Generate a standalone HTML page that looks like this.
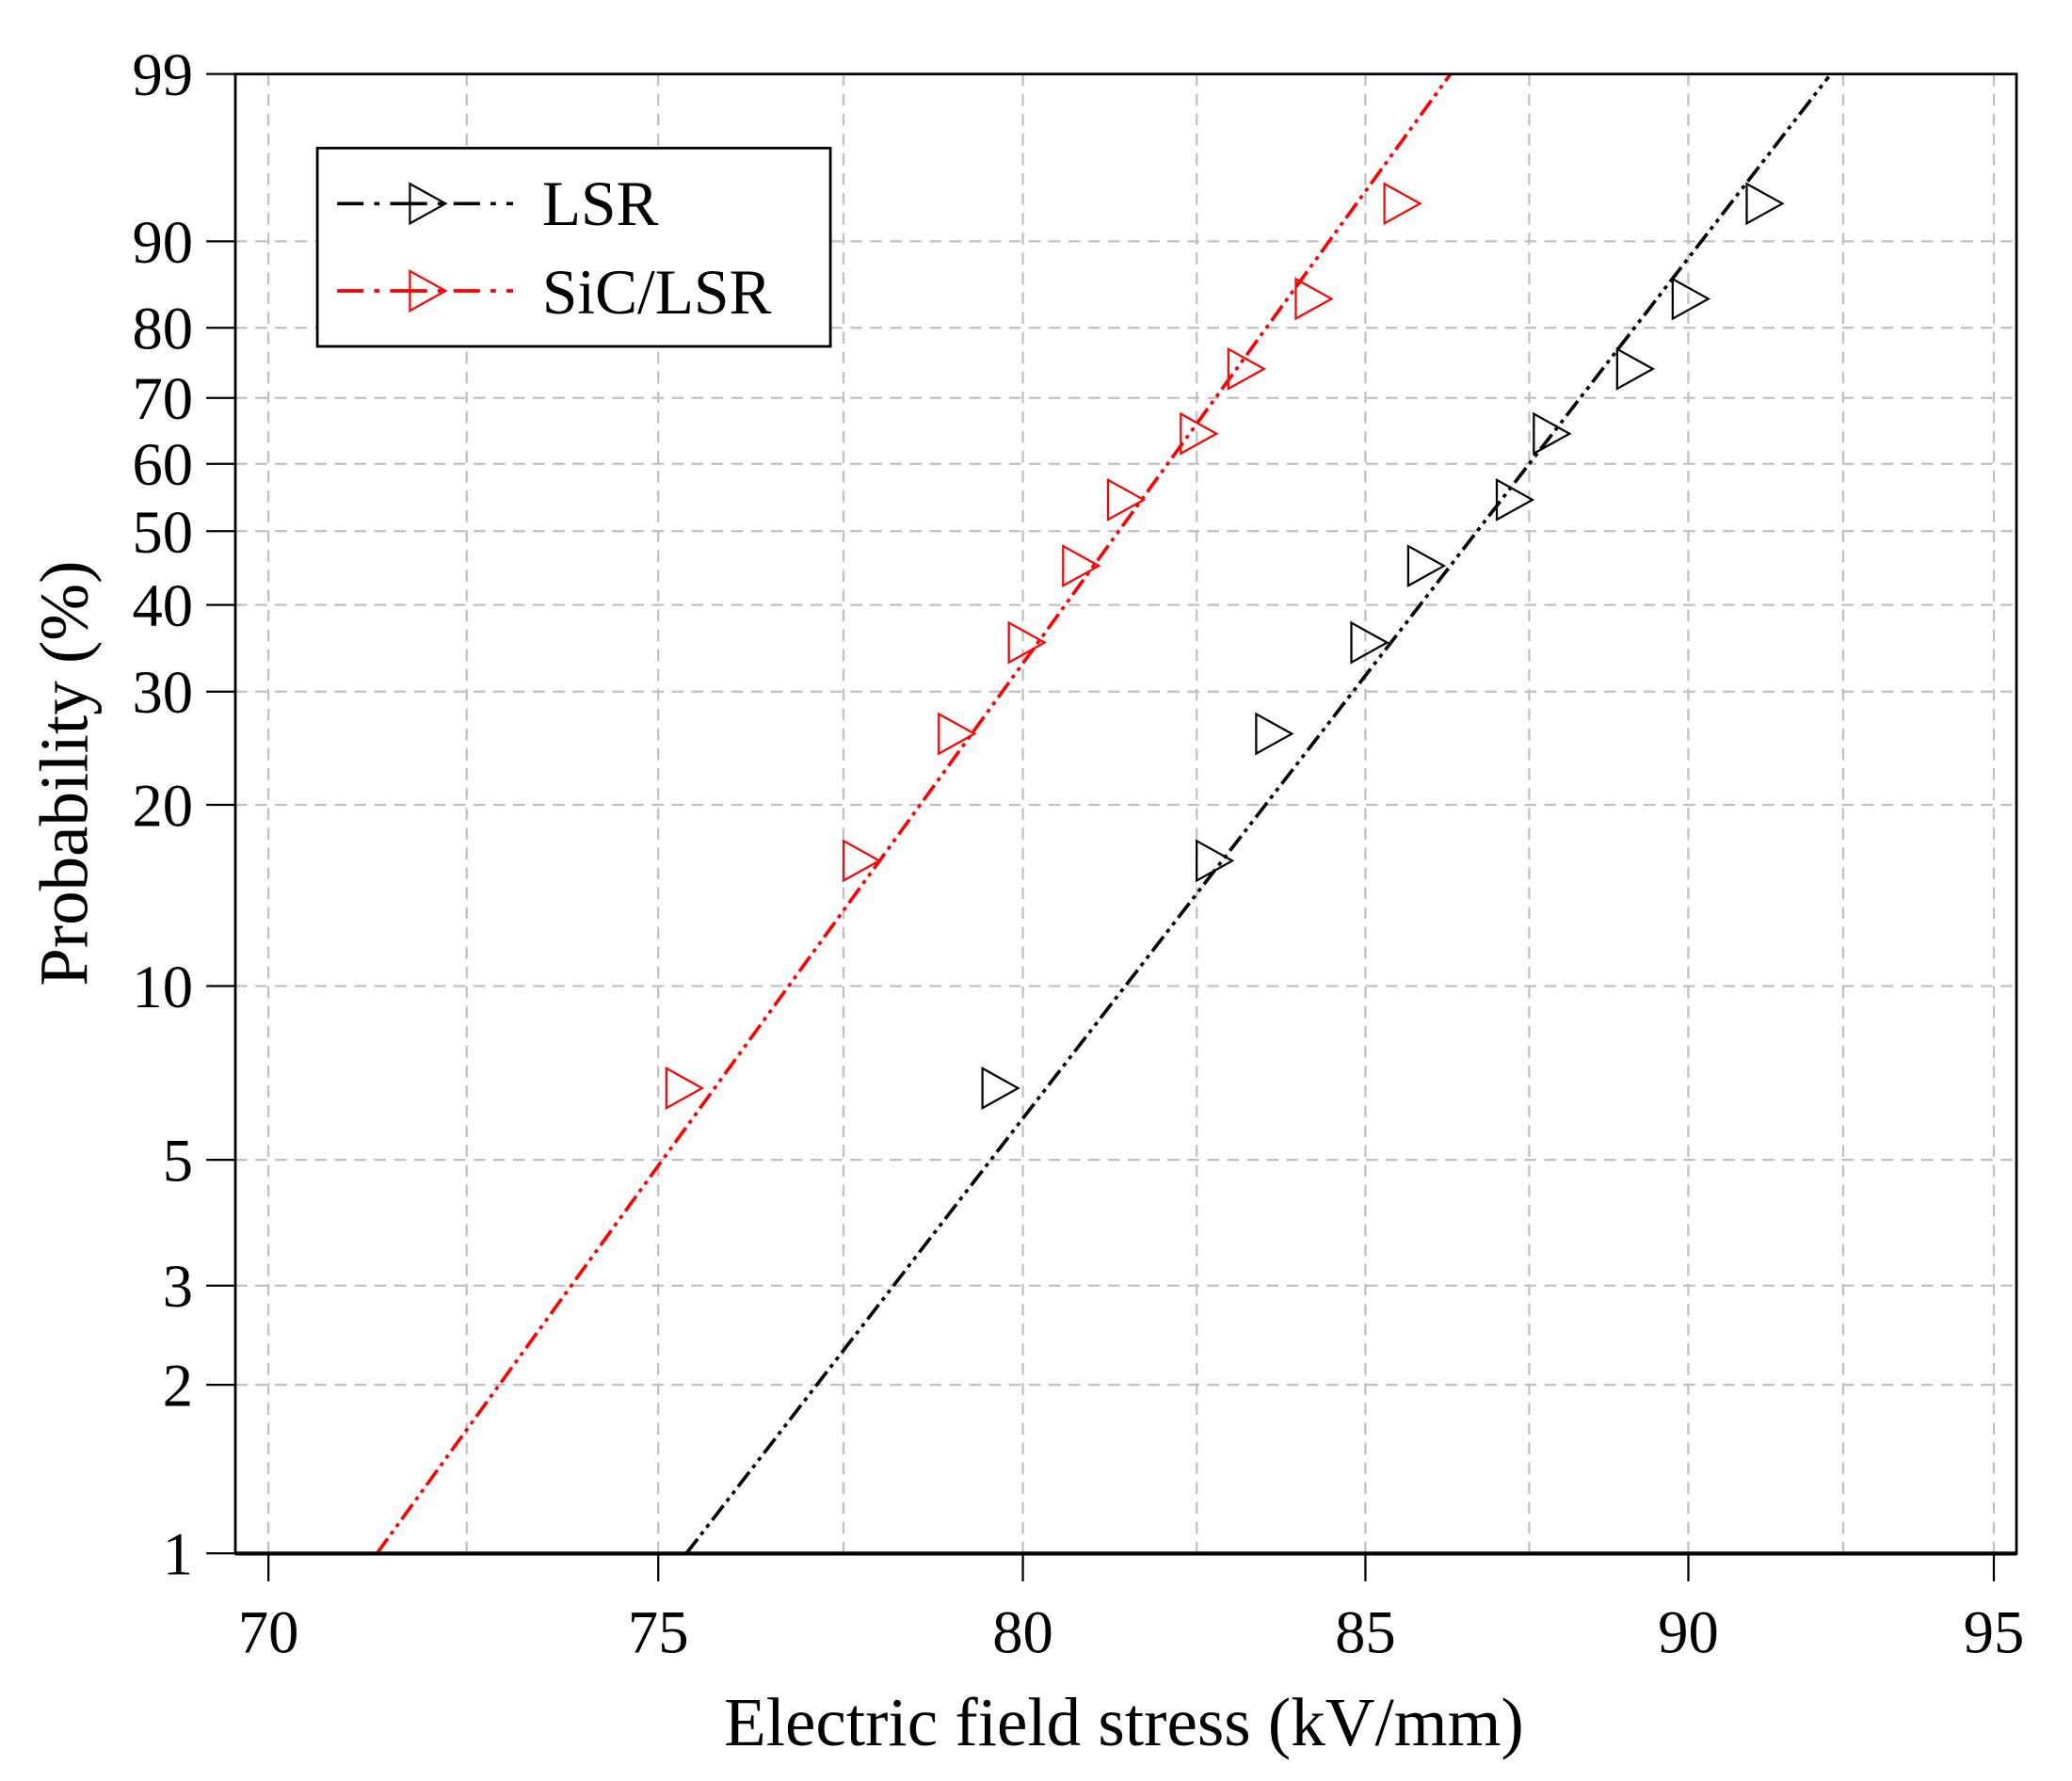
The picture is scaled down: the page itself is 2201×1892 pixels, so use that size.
<!DOCTYPE html>
<html><head><meta charset="utf-8"><style>
html,body{margin:0;padding:0;background:#fff;}
svg{display:block;}
text{font-family:"Liberation Serif",serif;fill:#000;}
</style></head><body>
<svg id="s" width="2201" height="1892" viewBox="0 0 1567 1347" preserveAspectRatio="none" xmlns="http://www.w3.org/2000/svg">
<g id="grid" stroke="#c0c0c0" stroke-width="1.6" stroke-dasharray="9,6" fill="none"></g>
<g id="series"></g>
<rect x="178" y="56" width="1347" height="1119" fill="none" stroke="#000" stroke-width="2"/>
<line x1="178" y1="1175" x2="1525" y2="1175" stroke="#000" stroke-width="3"/>
<g id="ticks" stroke="#000" stroke-width="1.6"></g>
<g id="labels" font-size="46"></g>
<text x="850" y="1320" font-size="52" text-anchor="middle">Electric field stress (kV/mm)</text>
<text transform="translate(66,585) rotate(-90)" font-size="52" text-anchor="middle">Probability (%)</text>
<rect x="240" y="112" width="388" height="150" fill="#fff" stroke="#000" stroke-width="2"/>
<g id="legend"></g>
<text x="410" y="170" font-size="48">LSR</text>
<text x="410" y="237" font-size="48">SiC/LSR</text>
</svg>
<script>
var NS="http://www.w3.org/2000/svg";
function el(p,t,a){var e=document.createElementNS(NS,t);for(var k in a)e.setAttribute(k,a[k]);p.appendChild(e);return e;}
function Y(p){return 56+(1.527-Math.log(-Math.log(1-p/100)))*182.6;}
function X(v){return 203+4273*Math.log(v/70);}
var g=document.getElementById('grid'),tk=document.getElementById('ticks'),lb=document.getElementById('labels');
var xs=[70,72.5,75,77.5,80,82.5,85,87.5,90,92.5,95];
xs.forEach(function(v){var x=X(v);el(g,'line',{x1:x,y1:56,x2:x,y2:1175});});
[70,75,80,85,90,95].forEach(function(v){var x=X(v);el(tk,'line',{x1:x,y1:1175,x2:x,y2:1196});var t=el(lb,'text',{x:x,y:1250,'text-anchor':'middle'});t.textContent=v;});
var ps=[99,90,80,70,60,50,40,30,20,10,5,3,2,1];
ps.forEach(function(p){var y=Y(p);if(p!=99&&p!=1)el(g,'line',{x1:178,y1:y,x2:1525,y2:y});el(tk,'line',{x1:156,y1:y,x2:178,y2:y});var t=el(lb,'text',{x:146,y:y+16,'text-anchor':'end'});t.textContent=p;});
var se=document.getElementById('series');
function tri(p,x,y,c){el(p,'polygon',{points:(x-13)+','+(y-15)+' '+(x+14)+','+y+' '+(x-13)+','+(y+15),fill:'none',stroke:c,'stroke-width':1.6});}
var da="14,4,3,4,3,4";
el(se,'line',{x1:285,y1:1175,x2:1097,y2:56,stroke:'#ff0000','stroke-width':2.6,'stroke-dasharray':da});
el(se,'line',{x1:519,y1:1175,x2:1383,y2:58,stroke:'#000','stroke-width':2.6,'stroke-dasharray':da});
var ys=[823,651,555,486,428,378,328,279,226,154];
var rx=[517,651,723,776,817,851,906,942,993,1060];
var bx=[756,918,963,1035,1078,1145,1173,1236,1278,1334];
for(var i=0;i<10;i++){tri(se,rx[i],ys[i],'#ff0000');tri(se,bx[i],ys[i],'#000');}
var lg=document.getElementById('legend');
el(lg,'line',{x1:255,y1:154,x2:388,y2:154,stroke:'#000','stroke-width':2.6,'stroke-dasharray':'20,8,4,8,28,8,4,8'});
tri(lg,323,154,'#000');
el(lg,'line',{x1:255,y1:220,x2:388,y2:220,stroke:'#ff0000','stroke-width':2.6,'stroke-dasharray':'20,8,4,8,28,8,4,8'});
tri(lg,323,220,'#ff0000');
</script>
</body></html>
